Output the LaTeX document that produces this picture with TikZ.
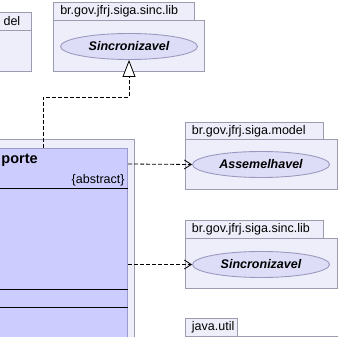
\documentclass[tikz,border=0pt]{standalone}
\usepackage{fontspec}
\setmainfont{Liberation Sans}
\usetikzlibrary{shapes.geometric,arrows.meta,positioning,calc}
\definecolor{pkgfill}{HTML}{EEEEFA}
\definecolor{pkgline}{HTML}{9C9CB0}
\definecolor{clsfill}{HTML}{CCCCFF}
\definecolor{clsline}{HTML}{9A9ACC}
\definecolor{ifcfill}{HTML}{DDDDF8}
\definecolor{ifcline}{HTML}{9A9AC0}
\tikzset{
  pkgtab/.style={rectangle,draw=pkgline,fill=pkgfill,anchor=north west,inner xsep=6.5pt,inner ysep=0pt,
                 text width=#1,align=left,minimum height=18pt,font=\fontsize{12.5}{14}\selectfont},
  pkgbody/.style={rectangle,draw=pkgline,fill=pkgfill,anchor=north west,inner sep=0pt},
  clsbox/.style={rectangle,draw=clsline,fill=clsfill,inner sep=0pt},
  ifc/.style={ellipse,draw=ifcline,fill=ifcfill,minimum width=137pt,minimum height=26pt,inner sep=0pt,
              font=\fontsize{12.5}{14}\selectfont\bfseries\itshape},
  dep/.style={draw=black,line width=0.8pt,dash pattern=on 4pt off 2pt,
              -{Straight Barb[length=7pt,width=9pt,line width=0.8pt]}},
  real/.style={draw=black,line width=0.8pt,dash pattern=on 4pt off 2pt,
               -{Triangle[open,length=17pt,width=13pt,line width=0.8pt,fill=white]}},
}
\begin{document}
\begin{tikzpicture}[x=1pt,y=-1pt,line width=0.9pt]
  \path[use as bounding box,fill=white] (0,0) rectangle (344,336);
  \clip (0,0) rectangle (344,336);

  % packages along the top
  \node[pkgtab=40pt,anchor=north east,align=right,inner xsep=11pt] (modtabL) at (31.7,12) {del};
  \node[pkgbody,minimum width=62pt,minimum height=41pt,anchor=north east] (modL) at (31.7,30) {};
  \node[pkgtab=128pt] (sinctabT) at (53.3,2) {br.gov.jfrj.siga.sinc.lib};
  \node[pkgbody,minimum width=151pt,minimum height=51pt] (sincT) at (53.3,20) {};
  \node[ifc] (sync1) at (129,46.5) {Sincronizavel};

  % the abstract class and its package
  \node[pkgbody,minimum width=200pt,minimum height=240pt,anchor=north east] (pkgcls) at (135,139) {};
  \node[clsbox,minimum width=180pt,minimum height=230pt,anchor=north east] (cls) at (128,148) {};
  \node[anchor=west,inner sep=0pt,font=\fontsize{14.5}{16}\selectfont\bfseries] (clsname) at (1,160) {porte};
  \node[anchor=east,inner sep=0pt,font=\fontsize{12.5}{14}\selectfont] (clsabs) at (125,180) {\{abstract\}};
  \draw[black] (-52,188) -- (128,188);
  \draw[black] (-52,289) -- (128,289);
  \draw[black] (-52,307) -- (128,307);
  \coordinate (clsup) at (43,148);
  \coordinate (clsr1) at (128,164);
  \coordinate (clsr2) at (128,264.5);

  % packages on the right
  \node[pkgtab=125pt] (modtab) at (185,122) {br.gov.jfrj.siga.model};
  \node[pkgbody,minimum width=152pt,minimum height=50pt] (mod) at (185,139) {};
  \node[ifc] (assem) at (261,164.5) {Assemelhavel};
  \node[pkgtab=125pt] (sinctab) at (185,220) {br.gov.jfrj.siga.sinc.lib};
  \node[pkgbody,minimum width=152pt,minimum height=50pt] (sinc) at (185,238) {};
  \node[ifc] (sync2) at (261,264.5) {Sincronizavel};
  \node[pkgtab=39pt] (utiltab) at (185,318) {java.util};
  \node[pkgbody,minimum width=152pt,minimum height=50pt] (util) at (185,336) {};

  % relations
  \draw[real] (clsup) -- (43,97) -| (sync1.south);
  \draw[dep] (clsr1) -- (assem.west);
  \draw[dep] (clsr2) -- (sync2.west);
\end{tikzpicture}
\end{document}
